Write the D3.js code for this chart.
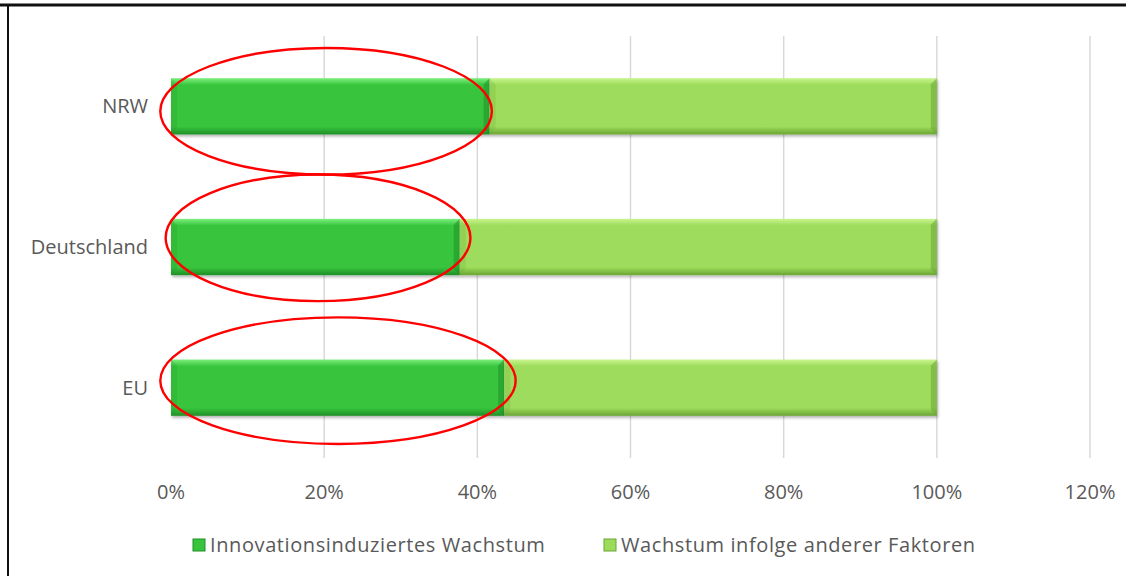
<!DOCTYPE html>
<meta charset="utf-8"/>
<style>
  body { margin: 0; background: #fff; }
  text { font-family: "Open Sans", "Noto Sans", sans-serif; fill: #595959; }
  .grid line { stroke: #d9d9d9; stroke-width: 1.5px; }
</style>
<svg width="1126" height="576"></svg>
<script src="https://d3js.org/d3.v7.min.js"></script>
<script>

  // data
  var regions = ["NRW", "Deutschland", "EU"];
  var innovation = [41.6, 37.7, 43.5];          // Innovationsinduziertes Wachstum
  var otherFactors = [58.4, 62.3, 56.5];        // Wachstum infolge anderer Faktoren
  var seriesNames = ["Innovationsinduziertes Wachstum", "Wachstum infolge anderer Faktoren"];
  var xTicks = [0, 20, 40, 60, 80, 100, 120];
  // red ellipses drawn round the first segment (x range in %, per region)
  var circledFrom = [-1.4, -0.7, -1.4];
  var circledTo = [41.9, 39.1, 45.0];
  var circledShift = [0.035, -0.065, -0.05];   // vertical offset, in category steps

  var svg = d3.select("svg"),
    width = +svg.attr("width"),
    height = +svg.attr("height");

  var margin = {top: 36, right: 36, bottom: 118, left: 171};

  var x = d3.scaleLinear()
    .domain([0, 120])
    .range([margin.left, width - margin.right]);

  var y = d3.scaleBand()
    .domain(regions)
    .range([margin.top, height - margin.bottom])
    .paddingInner(0.6)
    .paddingOuter(0.3);

  var colors = ["#38c53d", "#9ddc5b"];
  var dark = ["#1f8f27", "#6aa534"];
  var light = ["#7cef7e", "#c9f58e"];

  // frame lines (picture is cropped from a larger document)
  svg.append("line").attr("x1", 0).attr("x2", width).attr("y1", 5).attr("y2", 5)
    .attr("stroke", "#111").attr("stroke-width", 3);
  svg.append("line").attr("x1", 8).attr("x2", 8).attr("y1", 5).attr("y2", height)
    .attr("stroke", "#111").attr("stroke-width", 2);

  // gridlines
  svg.append("g")
    .attr("class", "grid")
    .selectAll("line")
    .data(xTicks.slice(1))
    .enter().append("line")
    .attr("x1", function (d) { return x(d); })
    .attr("x2", function (d) { return x(d); })
    .attr("y1", margin.top)
    .attr("y2", height - margin.bottom);

  // gradients for a bit of the bevelled look
  var defs = svg.append("defs");
  colors.forEach(function (c, i) {
    var g = defs.append("linearGradient")
      .attr("id", "grad" + i)
      .attr("x1", 0).attr("x2", 0).attr("y1", 0).attr("y2", 1);
    g.append("stop").attr("offset", "0%").attr("stop-color", light[i]);
    g.append("stop").attr("offset", "12%").attr("stop-color", c);
    g.append("stop").attr("offset", "86%").attr("stop-color", c);
    g.append("stop").attr("offset", "100%").attr("stop-color", dark[i]);
  });
  var f = defs.append("filter").attr("id", "shadow")
    .attr("x", "-5%").attr("y", "-20%").attr("width", "110%").attr("height", "150%");
  f.append("feDropShadow").attr("dx", 1).attr("dy", 2).attr("stdDeviation", 1.5)
    .attr("flood-color", "#000").attr("flood-opacity", 0.3);

  var segments = [];
  regions.forEach(function (r, i) {
    segments.push({region: r, s: 0, x0: 0, x1: innovation[i]});
    segments.push({region: r, s: 1, x0: innovation[i], x1: innovation[i] + otherFactors[i]});
  });

  var seg = svg.append("g").selectAll("g")
    .data(segments)
    .enter().append("g")
    .attr("filter", "url(#shadow)");

  seg.append("rect")
    .attr("x", function (d) { return x(d.x0); })
    .attr("y", function (d) { return y(d.region); })
    .attr("width", function (d) { return x(d.x1) - x(d.x0); })
    .attr("height", y.bandwidth())
    .attr("fill", function (d) { return "url(#grad" + d.s + ")"; });

  // bevel: darker right edge, slightly darker left edge
  var bev = 6;
  seg.append("path")
    .attr("fill", function (d) { return dark[d.s]; })
    .attr("opacity", 0.55)
    .attr("d", function (d) {
      var x1 = x(d.x1), y0 = y(d.region), y1 = y0 + y.bandwidth();
      return "M" + x1 + "," + y0 + "L" + x1 + "," + y1 + "L" + (x1 - bev) + "," + (y1 - bev) +
        "L" + (x1 - bev) + "," + (y0 + bev) + "Z";
    });
  seg.append("path")
    .attr("fill", function (d) { return dark[d.s]; })
    .attr("opacity", 0.2)
    .attr("d", function (d) {
      var x0 = x(d.x0), y0 = y(d.region), y1 = y0 + y.bandwidth();
      return "M" + x0 + "," + y0 + "L" + (x0 + bev) + "," + (y0 + bev) + "L" + (x0 + bev) + "," + (y1 - bev) +
        "L" + x0 + "," + y1 + "Z";
    });

  // red ellipses
  svg.append("g").selectAll("ellipse")
    .data(regions)
    .enter().append("ellipse")
    .attr("cx", function (d, i) { return (x(circledFrom[i]) + x(circledTo[i])) / 2; })
    .attr("cy", function (d, i) { return y(d) + y.bandwidth() / 2 + circledShift[i] * y.step(); })
    .attr("rx", function (d, i) { return (x(circledTo[i]) - x(circledFrom[i])) / 2; })
    .attr("ry", y.step() * 0.45)
    .attr("fill", "none")
    .attr("stroke", "#ff0000")
    .attr("stroke-width", 2.4);

  // category labels
  svg.append("g").selectAll("text")
    .data(regions)
    .enter().append("text")
    .attr("x", margin.left - 23)
    .attr("y", function (d) { return y(d) + y.bandwidth() / 2; })
    .attr("dy", "0.35em")
    .attr("text-anchor", "end")
    .style("font-size", "20px")
    .text(function (d) { return d; });

  // x tick labels
  svg.append("g").selectAll("text")
    .data(xTicks)
    .enter().append("text")
    .attr("x", function (d) { return x(d); })
    .attr("y", 492)
    .attr("dy", "0.35em")
    .attr("text-anchor", "middle")
    .style("font-size", "20px")
    .text(function (d) { return d + "%"; });

  // legend
  var legendX = [193, 604];
  var leg = svg.append("g").selectAll("g")
    .data(seriesNames)
    .enter().append("g")
    .attr("transform", function (d, i) { return "translate(" + legendX[i] + ",545)"; });
  leg.append("rect")
    .attr("x", 0).attr("y", -6).attr("width", 12).attr("height", 12)
    .attr("fill", function (d, i) { return colors[i]; })
    .attr("stroke", function (d, i) { return dark[i]; })
    .attr("stroke-width", 1);
  leg.append("text")
    .attr("x", 17)
    .attr("dy", "0.35em")
    .style("font-size", "20px")
    .style("letter-spacing", "0.6px")
    .text(function (d) { return d; });

</script>
